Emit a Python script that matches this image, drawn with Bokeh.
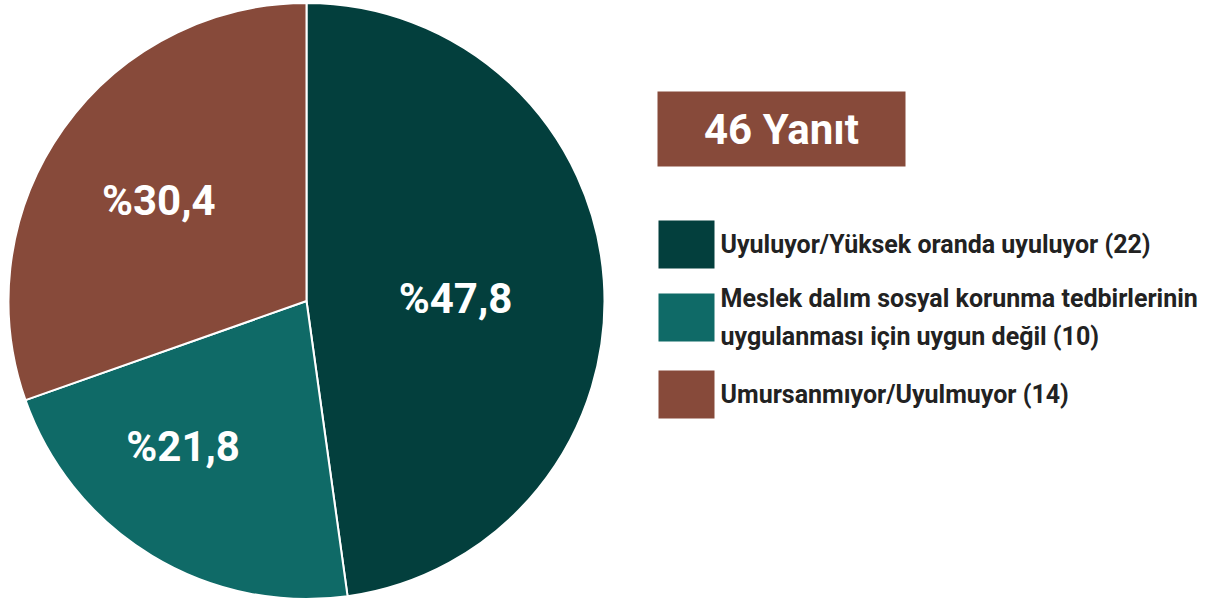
import math
from bokeh.plotting import figure
from bokeh.models import Range1d, ColumnDataSource
from bokeh.core.properties import value
from bokeh.embed import file_html
from bokeh.resources import INLINE

# ---- data ----
categories = [
    "Uyuluyor/Yüksek oranda uyuluyor",
    "Meslek dalım sosyal korunma tedbirlerinin\nuygulanması için uygun değil",
    "Umursanmıyor/Uyulmuyor",
]
counts = [22, 10, 14]
percents = [47.8, 21.8, 30.4]
pct_labels = ["%47,8", "%21,8", "%30,4"]
colors = ["#033F3D", "#0F6A67", "#874A3A"]
total_text = f"{sum(counts)} Yanıt"

# ---- layout (pixels of the picture) ----
W, H = 1219, 602
FONT = value("Roboto")


def sy(y):
    """picture y (down) -> data y (up)"""
    return H - y


p = figure(width=W, height=H, x_range=Range1d(0, W), y_range=Range1d(0, H),
           output_backend="svg", toolbar_location=None, min_border=0)
p.axis.visible = False
p.grid.visible = False
p.outline_line_color = None
p.background_fill_color = "white"
p.border_fill_color = "white"

# pie
cx, cy, R = 306, sy(300.5), 298
cum = [0.0]
for v in percents:
    cum.append(cum[-1] + v)
starts = [math.pi / 2 - 2 * math.pi * cum[i] / 100 for i in range(len(percents))]
ends = [math.pi / 2 - 2 * math.pi * cum[i + 1] / 100 for i in range(len(percents))]
pie_src = ColumnDataSource(dict(x=[cx] * len(percents), y=[cy] * len(percents),
                                start=starts, end=ends, color=colors))
p.wedge(x="x", y="y", radius=R, start_angle="start", end_angle="end", direction="clock",
        fill_color="color", line_color="white", line_width=2, source=pie_src)

# percentage labels
label_r = [0.50, 0.64, 0.60]
label_shift = [3, 9, -1]  # degrees
lx, ly = [], []
for i in range(len(percents)):
    m = math.radians(3.6 * (cum[i] + percents[i] / 2) + label_shift[i])
    lx.append(cx + label_r[i] * R * math.sin(m))
    ly.append(cy + label_r[i] * R * math.cos(m))
p.text(x=lx, y=ly, text=pct_labels, text_color="white", text_font=FONT,
       text_font_style="bold", text_font_size="42px", text_align="center",
       text_baseline="middle")

# total box
p.quad(left=[657], right=[905], top=[sy(91)], bottom=[sy(166)], fill_color="#874A3A",
       line_color=None)
p.text(x=[781], y=[sy(129)], text=[total_text], text_color="white", text_font=FONT,
       text_font_style="bold", text_font_size="42px", text_align="center",
       text_baseline="middle")

# legend
box_tops = [220, 293, 370]
box_h = 48
legend_labels = [f"{c} ({n})" for c, n in zip(categories, counts)]
p.quad(left=[658] * 3, right=[714] * 3, top=[sy(t) for t in box_tops],
       bottom=[sy(t + box_h) for t in box_tops], fill_color=colors, line_color=None)
p.text(x=[720] * 3, y=[sy(t + box_h / 2) for t in box_tops], text=legend_labels,
       text_color="#222222", text_font=FONT, text_font_style="bold",
       text_font_size="25px", text_align="left", text_baseline="middle",
       text_line_height=1.3)

open("out.html", "w").write(file_html(p, INLINE))
